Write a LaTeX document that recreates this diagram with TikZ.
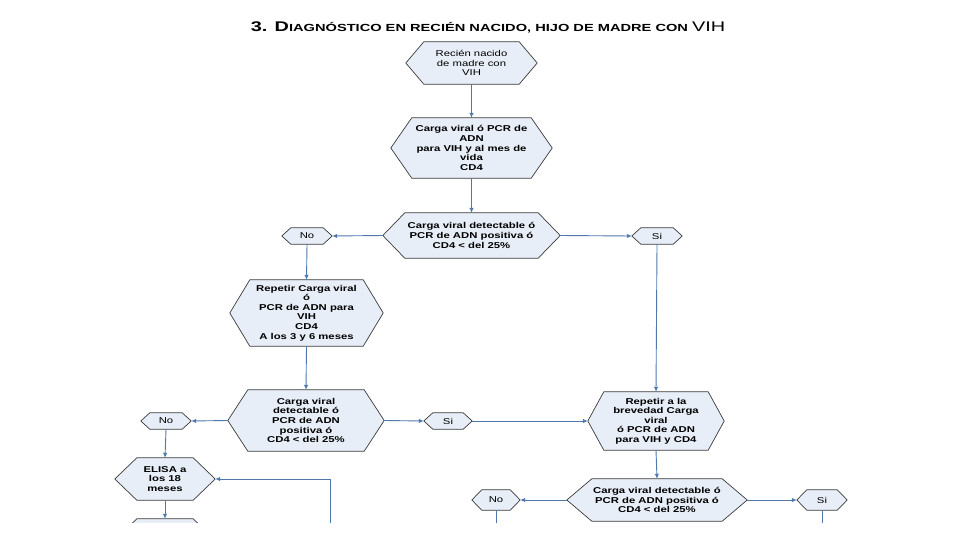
\documentclass[tikz,border=0pt]{standalone}
\usepackage{fontspec}
\setmainfont{Liberation Sans}
\newfontfamily\nodefont[FakeStretch=1.33]{Liberation Sans}
\newfontfamily\titlefont[FakeStretch=1.42]{Liberation Sans}
\usetikzlibrary{calc,backgrounds,arrows.meta}
\definecolor{hexfill}{HTML}{E8EEF7}
\definecolor{hexline}{HTML}{3A3A3A}
\definecolor{conn}{HTML}{4F78AE}
\tikzset{
  hexnode/.style={inner sep=0pt, align=center, font=\nodefont\bfseries\fontsize{8.5}{9.6}\selectfont},
  hexreg/.style={inner sep=0pt, align=center, font=\nodefont\fontsize{8.5}{9.6}\selectfont},
  hexshape/.style={draw=hexline, fill=hexfill, line width=0.7pt, line join=miter},
  arr/.style={draw=conn, line width=0.9pt, -{Latex[length=5pt,width=4.5pt]}},
  plain/.style={draw=conn, line width=0.9pt},
}
\newcommand\hexdraw[2]{\path[hexshape] (#1.west) -- ($(#1.north west)+(#2,0)$) -- ($(#1.north east)+(-#2,0)$) -- (#1.east) -- ($(#1.south east)+(-#2,0)$) -- ($(#1.south west)+(#2,0)$) -- cycle;}
\newcommand\bigc[1]{{\fontsize{14}{16}\selectfont #1}}
\newcommand\smallc[1]{{\fontsize{10.3}{16}\selectfont #1}}
\begin{document}
\begin{tikzpicture}[x=1pt,y=-1pt]
\useasboundingbox (0,0) rectangle (960,540);
\node[font=\titlefont, inner sep=0pt, anchor=base] (title) at (488,32) {\bfseries\bigc{3. D}\smallc{IAGNÓSTICO EN RECIÉN NACIDO, HIJO DE MADRE CON }\mdseries\bigc{VIH}};
\clip (0,0) rectangle (960,522);
% nodes
\node[hexreg, minimum width=131pt, minimum height=42pt] (n1) at (471.5,63) {Recién nacido\\de madre con\\VIH};
\node[hexnode, minimum width=161pt, minimum height=60pt] (n2) at (471.5,148) {Carga viral ó PCR de\\ADN\\para VIH y al mes de\\vida\\CD4};
\node[hexnode, minimum width=177pt, minimum height=45pt] (d1) at (471.5,235.5) {Carga viral detectable ó\\PCR de ADN positiva ó\\CD4 < del 25\%};
\node[hexreg, minimum width=50pt, minimum height=16pt] (no1) at (307,236) {No};
\node[hexreg, minimum width=50pt, minimum height=16pt] (si1) at (657,236) {Si};
\node[hexnode, minimum width=153pt, minimum height=66pt] (n4) at (306.5,313) {Repetir Carga viral\\ó\\PCR de ADN para\\VIH\\CD4\\A los 3 y 6 meses};
\node[hexnode, minimum width=156pt, minimum height=61pt] (d2) at (306,420.5) {Carga viral\\detectable ó\\PCR de ADN\\positiva ó\\CD4 < del 25\%};
\node[hexreg, minimum width=50pt, minimum height=16pt] (no2) at (166,421) {No};
\node[hexreg, minimum width=48pt, minimum height=16pt] (si2) at (448,421) {Si};
\node[hexnode, minimum width=136pt, minimum height=58pt] (n6) at (656,421) {Repetir a la\\brevedad Carga\\viral\\ó PCR de ADN\\para VIH y CD4};
\node[hexnode, minimum width=100pt, minimum height=42pt] (elisa) at (165,479) {ELISA a\\los 18\\meses};
\node[hexnode, minimum width=100pt, minimum height=42pt] (n8) at (165,540) {};
\node[hexnode, minimum width=180pt, minimum height=42pt] (d3) at (657,500) {Carga viral detectable ó\\PCR de ADN positiva ó\\CD4 < del 25\%};
\node[hexreg, minimum width=48pt, minimum height=20pt] (no3) at (496,500) {No};
\node[hexreg, minimum width=50pt, minimum height=20pt] (si3) at (822,500) {Si};
\coordinate (c1) at (330,540);
\coordinate (c2) at (496,540);
\coordinate (c3) at (822,540);
% hexagons
\begin{scope}[on background layer]
\clip (0,0) rectangle (960,522);
\hexdraw{n1}{18}
\hexdraw{n2}{21}
\hexdraw{d1}{22}
\hexdraw{no1}{9}
\hexdraw{si1}{9}
\hexdraw{n4}{20}
\hexdraw{d2}{20}
\hexdraw{no2}{9}
\hexdraw{si2}{9}
\hexdraw{n6}{16}
\hexdraw{elisa}{22}
\hexdraw{n8}{22}
\hexdraw{d3}{25}
\hexdraw{no3}{10}
\hexdraw{si3}{10}
\end{scope}
% connectors
\draw[arr] (n1.south) -- (n2.north);
\draw[arr] (n2.south) -- (d1.north);
\draw[arr] (d1.west) -- (no1.east);
\draw[arr] (d1.east) -- (si1.west);
\draw[arr] (no1.south) -- (n4.north);
\draw[arr] (si1.south) -- (n6.north);
\draw[arr] (n4.south) -- (d2.north);
\draw[arr] (d2.west) -- (no2.east);
\draw[arr] (d2.east) -- (si2.west);
\draw[arr] (si2.east) -- (n6.west);
\draw[arr] (no2.south) -- (elisa.north);
\draw[arr] (n6.south) -- (d3.north);
\draw[arr] (d3.west) -- (no3.east);
\draw[arr] (d3.east) -- (si3.west);
\draw[arr] (elisa.south) -- (n8.north);
\draw[arr] (c1) |- (elisa.east);
\draw[plain] (no3.south) -- (c2);
\draw[plain] (si3.south) -- (c3);
\end{tikzpicture}
\end{document}
